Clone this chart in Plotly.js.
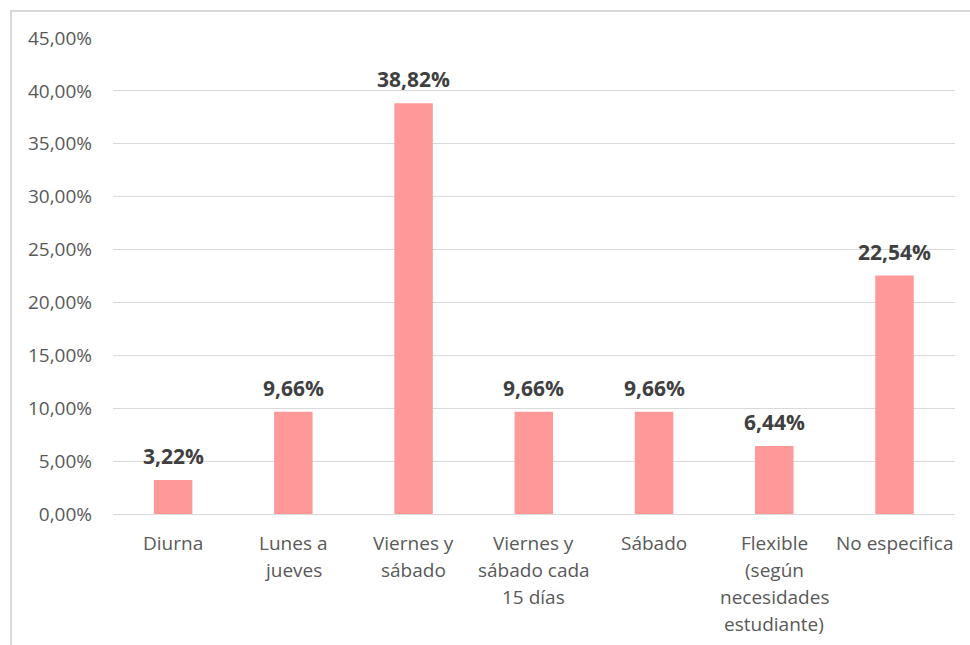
<!DOCTYPE html>
<html>
<head>
<meta charset="utf-8">
<script src="https://cdn.plot.ly/plotly-3.0.1.min.js"></script>
<style>
body{margin:0;padding:0;background:#fff;}
#wrap{position:relative;width:970px;height:645px;overflow:hidden;}
#chart{position:absolute;left:0;top:0;width:970px;height:645px;}
#border{position:absolute;left:10px;top:10px;width:980px;height:660px;border:2px solid #d9d9d9;pointer-events:none;box-sizing:border-box;}
</style>
</head>
<body>
<div id="wrap"><div id="chart"></div><div id="border"></div></div>
<script>
var categories = ["Diurna", "Lunes a<br>jueves", "Viernes y<br>sábado", "Viernes y<br>sábado cada<br>15 días", "Sábado", "Flexible<br>(según<br>necesidades<br>estudiante)", "No especifica"];
var values = [3.22, 9.66, 38.82, 9.66, 9.66, 6.44, 22.54];
var tickVals = [0, 5, 10, 15, 20, 25, 30, 35, 40, 45];
var tickText = ["0,00%", "5,00%", "10,00%", "15,00%", "20,00%", "25,00%", "30,00%", "35,00%", "40,00%", "45,00%"];

var FONT = 'Open Sans, sans-serif';

var trace = {
  type: 'bar',
  x: categories,
  y: values,
  marker: {color: '#ff9999'},
  cliponaxis: false,
  hoverinfo: 'none'
};

var annotations = [];
// value labels above bars
categories.forEach(function (c, i) {
  annotations.push({
    x: c, y: values[i], xref: 'x', yref: 'y',
    text: values[i].toFixed(2).replace('.', ',') + '%',
    showarrow: false, yanchor: 'middle', xanchor: 'center', yshift: 24,
    font: {family: FONT, size: 21, color: '#404040', weight: 'bold'}
  });
});
// category labels, one annotation per line
categories.forEach(function (c) {
  c.split('<br>').forEach(function (line, j) {
    annotations.push({
      x: c, y: 0, xref: 'x', yref: 'paper',
      text: line, showarrow: false, yanchor: 'middle', xanchor: 'center',
      yshift: -(29 + 27 * j),
      font: {family: FONT, size: 19, color: '#595959'}
    });
  });
});

var layout = {
  width: 970, height: 645,
  margin: {l: 113, r: 15, t: 38, b: 131},
  bargap: 0.68,
  showlegend: false,
  paper_bgcolor: '#fff',
  plot_bgcolor: '#fff',
  font: {family: FONT, color: '#595959', size: 19},
  xaxis: {
    type: 'category',
    showticklabels: false,
    showline: false, ticks: '', showgrid: false
  },
  yaxis: {
    range: [0, 45],
    tickmode: 'array',
    tickvals: tickVals,
    ticktext: tickText,
    tickfont: {size: 19, color: '#595959'},
    showgrid: true, gridcolor: '#d9d9d9', gridwidth: 1,
    zeroline: true, zerolinecolor: '#d9d9d9', zerolinewidth: 1,
    showline: false, ticks: '',
    ticklabelstandoff: 20
  },
  annotations: annotations
};

Plotly.newPlot('chart', [trace], layout, {displayModeBar: false, staticPlot: true});
</script>
</body>
</html>
